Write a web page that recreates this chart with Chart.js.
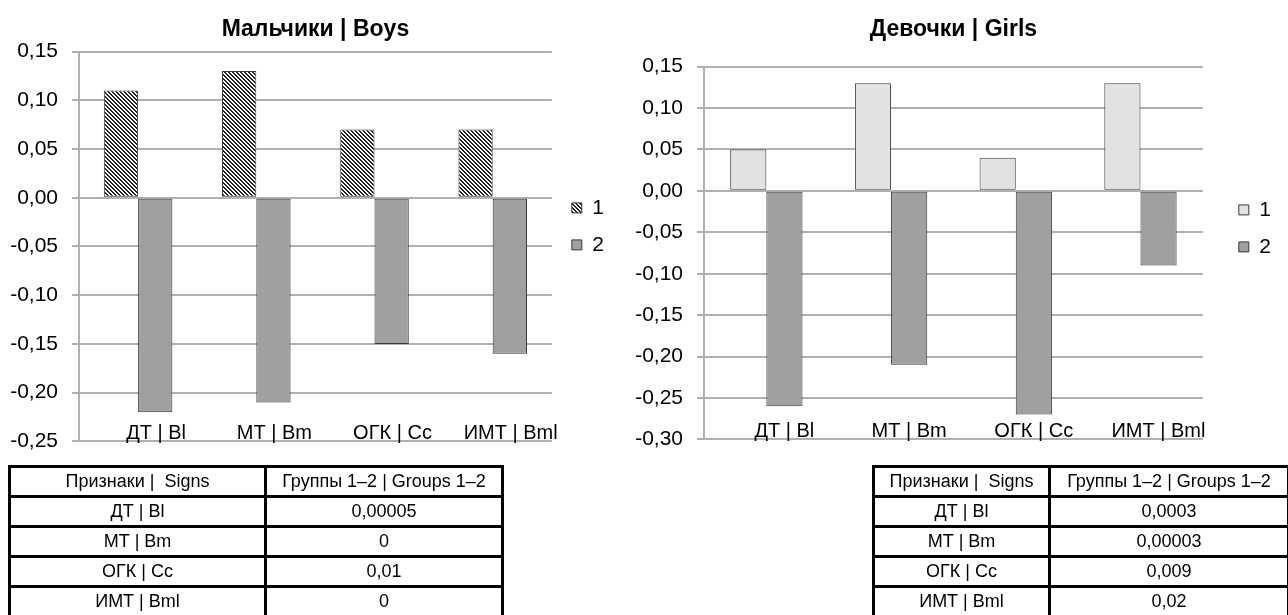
<!DOCTYPE html>
<html>
<head>
<meta charset="utf-8">
<script src="https://cdn.jsdelivr.net/npm/chart.js@4.4.1/dist/chart.umd.min.js"></script>
<style>
    body { margin: 0; background: #fff; width: 1288px; height: 615px; position: relative; overflow: hidden; }
    .chartBox { position: absolute; top: 0; }
    table {
        position: absolute;
        border-collapse: collapse;
        font-family: "Liberation Sans Narrow", "Arial Narrow", "Liberation Sans", sans-serif;
        font-size: 18px;
        color: #000;
    }
    td { border: 3px solid #000; text-align: center; height: 27px; padding: 0; white-space: pre; }
</style>
</head>
<body>
<div class="chartBox" style="left:0; width:620px; height:468px;"><canvas id="boysChart"></canvas></div>
<div class="chartBox" style="left:620px; width:668px; height:466px;"><canvas id="girlsChart"></canvas></div>

<table id="boysTable" style="left:8px; top:465px; width:496px;"></table>
<table id="girlsTable" style="left:872px; top:465px; width:418px;"></table>

<script>
// ==================== Data ====================
const categories = ['ДТ | Bl', 'МТ | Bm', 'ОГК | Cc', 'ИМТ | Bml'];
const seriesNames = ['1', '2'];

const boysGroup1 = [0.11, 0.13, 0.07, 0.07];
const boysGroup2 = [-0.22, -0.21, -0.15, -0.16];
const girlsGroup1 = [0.05, 0.13, 0.04, 0.13];
const girlsGroup2 = [-0.26, -0.21, -0.27, -0.09];

const tableHeader = ['Признаки |  Signs', 'Группы 1–2 | Groups 1–2'];
const boysPValues = ['0,00005', '0', '0,01', '0'];
const girlsPValues = ['0,0003', '0,00003', '0,009', '0,02'];

const FONT = '"Liberation Sans Narrow", "Arial Narrow", "Liberation Sans", sans-serif';
const GRID = '#b0b0b0';

/**
 * Diagonal hatch pattern for boys group 1
 */
function createHatch() {
    const c = document.createElement('canvas');
    c.width = 4;
    c.height = 4;
    const g = c.getContext('2d');
    g.fillStyle = '#fff';
    g.fillRect(0, 0, 4, 4);
    g.fillStyle = '#222';
    for (let i = 0; i < 4; i++) {
        g.fillRect(i, i, 1, 1);
        g.fillRect((i + 1) % 4, i, 1, 1);
    }
    return g.createPattern(c, 'repeat');
}

function fmt(v) {
    return v.toFixed(2).replace('.', ',');
}

function buildChart(id, title, s1, s2, fill1, yMin, axisWidth, legendGap, padRight, topPad, titlePad, legendTop) {
    const barStyle = {
        borderColor: '#3a3a3a',
        borderWidth: 1,
        borderSkipped: false,
        categoryPercentage: 0.58,
        barPercentage: 1
    };

    return new Chart(document.getElementById(id), {
        type: 'bar',
        data: {
            labels: categories,
            datasets: [
                Object.assign({ label: seriesNames[0], data: s1, backgroundColor: fill1 }, barStyle),
                Object.assign({ label: seriesNames[1], data: s2, backgroundColor: '#a0a0a0' }, barStyle)
            ]
        },
        options: {
            responsive: true,
            maintainAspectRatio: false,
            animation: false,
            layout: { padding: { left: 0, right: padRight, top: topPad, bottom: 0 } },
            plugins: {
                title: {
                    display: true,
                    fullSize: false,
                    text: title,
                    color: '#000',
                    font: { family: FONT, size: 23, weight: 'bold' },
                    padding: titlePad
                },
                legend: {
                    position: 'right',
                    align: 'start',
                    // empty legend title only pushes the items down
                    title: { display: true, text: '', padding: { top: legendTop, bottom: 0 } },
                    labels: {
                        color: '#000',
                        font: { family: FONT, size: 21 },
                        boxWidth: 10,
                        boxHeight: 10,
                        padding: 16
                    }
                },
                tooltip: { enabled: false }
            },
            scales: {
                x: {
                    grid: { display: false, drawTicks: false },
                    border: { display: false },
                    ticks: {
                        color: '#000',
                        font: { family: FONT, size: 20 },
                        mirror: true,
                        padding: -4,
                        labelOffset: 18,
                        maxRotation: 0,
                        autoSkip: false
                    },
                    afterFit: scale => { scale.height = 20; }
                },
                y: {
                    min: yMin,
                    max: 0.15,
                    grid: { color: GRID, lineWidth: 2, tickLength: 7 },
                    border: { display: true, color: GRID, width: 2 },
                    ticks: {
                        stepSize: 0.05,
                        color: '#000',
                        padding: 14,
                        font: { family: FONT, size: 21 },
                        callback: v => fmt(v)
                    },
                    afterFit: scale => { scale.width = axisWidth; }
                },
                // empty gap between the plot and the legend
                gap: {
                    type: 'linear',
                    position: 'right',
                    grid: { display: false, drawTicks: false },
                    border: { display: false },
                    ticks: { display: false },
                    afterFit: scale => { scale.width = legendGap; }
                }
            }
        }
    });
}

function fillTable(id, values) {
    const table = document.getElementById(id);
    const rows = [tableHeader].concat(categories.map((c, i) => [c, values[i]]));
    rows.forEach(r => {
        const tr = document.createElement('tr');
        r.forEach(text => {
            const td = document.createElement('td');
            td.textContent = text;
            tr.appendChild(td);
        });
        table.appendChild(tr);
    });
}

buildChart('boysChart', 'Мальчики | Boys', boysGroup1, boysGroup2, createHatch(), -0.25, 79, 4, 6, 2, { top: 14, bottom: 8 }, 165);
buildChart('girlsChart', 'Девочки | Girls', girlsGroup1, girlsGroup2, '#e2e2e2', -0.30, 84, 20, 7, 1, { top: 15, bottom: 23 }, 168);

fillTable('boysTable', boysPValues);
fillTable('girlsTable', girlsPValues);
document.querySelector('#boysTable tr td').style.width = '253px';
document.querySelector('#girlsTable tr td').style.width = '173px';
</script>
</body>
</html>
